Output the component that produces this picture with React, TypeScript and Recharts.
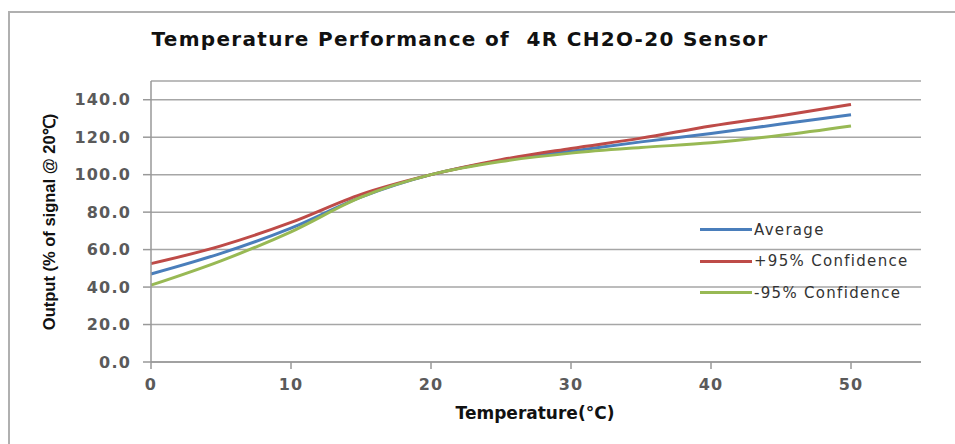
import { LineChart, Line, XAxis, YAxis, CartesianGrid } from "recharts";

// temperature points (°C)
const temperature = [0, 5, 10, 15, 20, 25, 30, 35, 40, 45, 50];
const average = [47, 58, 71.5, 88, 100, 107.5, 112.5, 117.5, 122, 127, 132];
const plus95 = [52.5, 62, 74.5, 89.5, 100, 108, 114, 119.5, 126, 131.5, 137.5];
const minus95 = [41, 54, 69.5, 88, 100, 107, 111.5, 114.5, 117, 121, 126];

const xTicks = [0, 10, 20, 30, 40, 50];
const yTicks = [0, 20, 40, 60, 80, 100, 120, 140];

const series = [
  { key: "average", name: "Average", color: "#4a7ebb" },
  { key: "plus95", name: "+95% Confidence", color: "#be4b48" },
  { key: "minus95", name: "-95% Confidence", color: "#98b954" },
];

const data = temperature.map((t, i) => ({
  t,
  average: average[i],
  plus95: plus95[i],
  minus95: minus95[i],
}));

const tickStyle = {
  fontSize: 16,
  fontFamily: "DejaVu Sans",
  fontWeight: "bold" as const,
  fill: "#5a5a5a",
  letterSpacing: 1.2,
};

export default function App() {
  return (
    <div
      style={{
        position: "absolute",
        left: 0,
        top: 0,
        width: 955,
        height: 444,
        background: "#fff",
        overflow: "hidden",
      }}
    >
      {/* frame */}
      <div
        style={{
          position: "absolute",
          left: 8,
          top: 11,
          width: 960,
          height: 440,
          borderTop: "2px solid #b0b0b0",
          borderLeft: "2px solid #b0b0b0",
        }}
      />

      <LineChart
        width={955}
        height={444}
        data={data}
        margin={{ top: 81, right: 34, bottom: 0, left: 0 }}
        style={{ position: "absolute", left: 0, top: 0 }}
      >
        <CartesianGrid vertical={false} stroke="#a6a6a6" strokeWidth={1.5} />
        <XAxis
          type="number"
          dataKey="t"
          domain={[0, 55]}
          ticks={xTicks}
          height={82}
          stroke="#999"
          strokeWidth={1.5}
          tickSize={7}
          tickMargin={10}
          tick={tickStyle}
        />
        <YAxis
          domain={[0, 150]}
          ticks={yTicks}
          width={151}
          stroke="#999"
          strokeWidth={1.5}
          tickSize={8}
          tickMargin={12}
          tick={tickStyle}
          tickFormatter={(v: number) => v.toFixed(1)}
        />
        {series.map((s) => (
          <Line
            key={s.key}
            type="monotone"
            dataKey={s.key}
            name={s.name}
            stroke={s.color}
            strokeWidth={3}
            dot={false}
            isAnimationActive={false}
          />
        ))}
      </LineChart>

      {/* title */}
      <div
        style={{
          position: "absolute",
          left: 0,
          top: 27,
          width: 920,
          textAlign: "center",
          fontFamily: "DejaVu Sans",
          fontWeight: "bold",
          fontSize: 20,
          letterSpacing: 1.3,
          whiteSpace: "pre",
          color: "#111",
        }}
      >
        {"Temperature Performance of  4R CH2O-20 Sensor"}
      </div>

      {/* y axis title */}
      <div
        style={{
          position: "absolute",
          left: 48,
          top: 222,
          transform: "translate(-50%, -50%) rotate(-90deg)",
          fontFamily: "Liberation Sans",
          fontWeight: "bold",
          fontSize: 16.5,
          whiteSpace: "nowrap",
          color: "#111",
        }}
      >
        Output (% of signal @ 20℃)
      </div>

      {/* x axis title */}
      <div
        style={{
          position: "absolute",
          left: 535,
          top: 413,
          transform: "translate(-50%, -50%)",
          fontFamily: "DejaVu Sans",
          fontWeight: "bold",
          fontSize: 17,
          whiteSpace: "nowrap",
          color: "#111",
        }}
      >
        Temperature(°C)
      </div>

      {/* legend */}
      <div style={{ position: "absolute", left: 700, top: 214 }}>
        {series.map((s) => (
          <div
            key={s.key}
            style={{ display: "flex", alignItems: "center", height: 31.5 }}
          >
            <div style={{ width: 52, height: 3, background: s.color }} />
            <span
              style={{
                marginLeft: 2,
                fontFamily: "DejaVu Sans",
                fontSize: 15,
                letterSpacing: 1.3,
                color: "#333",
              }}
            >
              {s.name}
            </span>
          </div>
        ))}
      </div>
    </div>
  );
}
